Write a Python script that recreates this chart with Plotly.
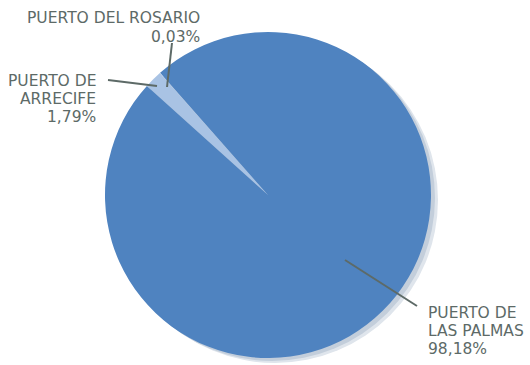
import plotly.graph_objects as go

W, H = 530, 365

labels = ["PUERTO DE ARRECIFE", "PUERTO DEL ROSARIO", "PUERTO DE LAS PALMAS"]
values = [1.79, 0.03, 98.18]
label_lines = [["PUERTO DE", "ARRECIFE", "1,79%"],
               ["PUERTO DEL ROSARIO", "0,03%"],
               ["PUERTO DE", "LAS PALMAS", "98,18%"]]
colors = ["#a9c3e4", "#c9daef", "#4f83c0"]

TEXT = "#5d6a67"
FONT = "DejaVu Sans, sans-serif"

def px(x):
    return x / W

def py(y):
    return 1 - y / H

cx, cy, r = 268, 195, 163

fig = go.Figure()
fig.add_trace(go.Pie(
    labels=labels,
    values=values,
    sort=False,
    direction="clockwise",
    rotation=-48,
    marker=dict(colors=colors, line=dict(width=0)),
    textinfo="none",
    hoverinfo="label+percent",
    showlegend=False,
    domain=dict(x=[px(cx - 200), px(cx + 200)], y=[py(cy + r), py(cy - r)]),
))

# soft shadow behind the pie
shapes = [
    dict(type="circle", xref="paper", yref="paper", layer="below",
         x0=px(cx - r + 7), x1=px(cx + r + 7), y0=py(cy + r + 5), y1=py(cy - r + 5),
         fillcolor="#dfe5ec", line=dict(width=0)),
    dict(type="circle", xref="paper", yref="paper", layer="below",
         x0=px(cx - r + 4), x1=px(cx + r + 4), y0=py(cy + r + 3), y1=py(cy - r + 3),
         fillcolor="#c3cedb", line=dict(width=0)),
]
leaders = [((108, 80), (157, 86)), ((172, 43), (167, 87)), ((345, 260), (417, 306))]
for (x0, y0), (x1, y1) in leaders:
    shapes.append(dict(type="line", xref="paper", yref="paper",
                       x0=px(x0), y0=py(y0), x1=px(x1), y1=py(y1),
                       line=dict(color=TEXT, width=2)))

# label anchor x, alignment, first-line centre y, line step
label_pos = [(98, "right", 81, 18), (202, "right", 18, 19), (426, "left", 313, 18)]
annotations = []
for lines, (x, anchor, y0, step) in zip(label_lines, label_pos):
    for i, line in enumerate(lines):
        annotations.append(dict(text=line, x=px(x), y=py(y0 + i * step),
                                xanchor=anchor, yanchor="middle",
                                xref="paper", yref="paper", showarrow=False,
                                font=dict(family=FONT, size=15.5, color=TEXT)))

fig.update_layout(
    width=W, height=H,
    margin=dict(l=0, r=0, t=0, b=0),
    paper_bgcolor="white", plot_bgcolor="white",
    shapes=shapes, annotations=annotations,
)

fig.write_html("out.html", config={"displayModeBar": False},
               post_script="document.body.style.margin='0';")
